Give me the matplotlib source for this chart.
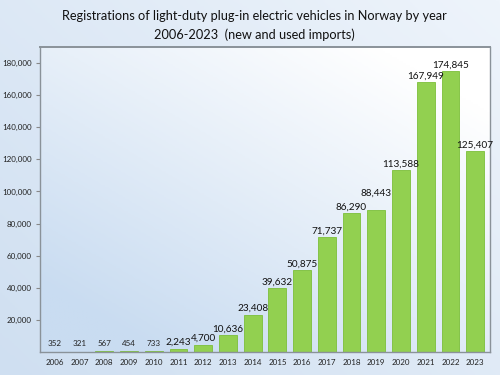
import matplotlib
matplotlib.use('Agg')
import matplotlib.pyplot as plt
import numpy as np

plt.rcParams['font.family'] = ['Lato', 'DejaVu Sans']

years = [str(y) for y in range(2006, 2024)]
registrations = [352, 321, 567, 454, 733, 2243, 4700, 10636, 23408, 39632,
                 50875, 71737, 86290, 88443, 113588, 167949, 174845, 125407]
y_ticks = [20000, 40000, 60000, 80000, 100000, 120000, 140000, 160000, 180000]

fig = plt.figure(figsize=(5, 3.75), dpi=100)

# figure background gradient
bg = fig.add_axes([0, 0, 1, 1], zorder=-10)
gx, gy = np.meshgrid(np.linspace(0, 1, 200), np.linspace(0, 1, 150))
grad = np.clip(0.55 * gx + 0.45 * (1 - gy), 0, 1)
bg.imshow(grad, cmap=matplotlib.colors.LinearSegmentedColormap.from_list(
    'bgc', ['#cfdff1', '#eef4fb']), aspect='auto', extent=[0, 1, 0, 1])
bg.axis('off')

ax = fig.add_axes([0.08, 0.061, 0.90, 0.814])
ax.patch.set_alpha(0)
# axes gradient
ax_grad = np.clip(0.6 * gx + 0.7 * (1 - gy) - 0.15, 0, 1)
ax.imshow(ax_grad, cmap=matplotlib.colors.LinearSegmentedColormap.from_list(
    'axc', ['#c9dcf1', '#ffffff']), aspect='auto',
    extent=[-0.6, len(years) - 0.4, 0, 190000], zorder=0)

x = np.arange(len(years))
ax.bar(x, registrations, width=0.72, color='#92d050', edgecolor='#7cbf3a',
       linewidth=0.6, zorder=2)

for i, v in enumerate(registrations):
    if v < 1000:
        ax.text(i, 3000, f'{v:,}', ha='center', va='bottom', fontsize=5.8,
                color='#222222', zorder=3)
    else:
        # 2019 label sits higher in the original so it clears 2018's
        extra = 9 if years[i] == '2019' else 1
        ax.annotate(f'{v:,}', (i, v), xytext=(0, extra), textcoords='offset points',
                    ha='center', va='bottom', fontsize=7.2, color='#111111', zorder=3)

ax.set_xlim(-0.6, len(years) - 0.4)
ax.set_ylim(0, 190000)
ax.set_xticks(x)
ax.set_xticklabels(years, fontsize=5.8, color='#222222')
ax.set_yticks(y_ticks)
ax.set_yticklabels([f'{t:,}' for t in y_ticks], fontsize=5.8, color='#222222')
ax.tick_params(axis='x', length=0, pad=5)
ax.tick_params(axis='y', length=3, color='#888888', pad=3)
for s in ax.spines.values():
    s.set_color('#8a9299')
    s.set_linewidth(1.0)
ax.spines['top'].set_linewidth(1.4)

fig.text(0.508, 0.958, 'Registrations of light-duty plug-in electric vehicles in Norway by year',
         ha='center', va='center', fontsize=9.2, color='#111111')
fig.text(0.508, 0.908, '2006-2023  (new and used imports)',
         ha='center', va='center', fontsize=9.2, color='#111111')

fig.savefig('out.png', dpi=100)
